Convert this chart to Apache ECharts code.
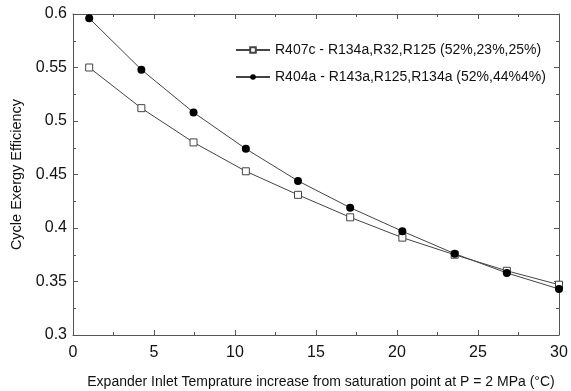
<!DOCTYPE html>
<html><head><meta charset="utf-8">
<script src="https://cdn.jsdelivr.net/npm/echarts@6/dist/echarts.min.js"></script>
<style>html,body{margin:0;padding:0;background:#fff}#c{width:571px;height:391px}</style>
</head><body><div id="c"></div>
<script>
const xValues = [1, 4.22, 7.44, 10.67, 13.89, 17.11, 20.33, 23.56, 26.78, 30];
const r407c = [0.550, 0.512, 0.480, 0.453, 0.431, 0.410, 0.391, 0.375, 0.360, 0.347];
const r404a = [0.596, 0.548, 0.508, 0.474, 0.444, 0.419, 0.397, 0.376, 0.358, 0.343];
const seriesNames = ['R407c - R134a,R32,R125 (52%,23%,25%)', 'R404a - R143a,R125,R134a (52%,44%4%)'];
const xTitle = 'Expander Inlet Temprature increase from saturation point at P = 2 MPa (°C)';
const yTitle = 'Cycle Exergy Efficiency';

const font = 'Liberation Sans, Arial, sans-serif';
const axisCol = '#555';
const chart = echarts.init(document.getElementById('c'), null, {renderer: 'canvas'});
const pair = arr => xValues.map((x, i) => [x, arr[i]]);
const baseX = {
  type: 'value', min: 0, max: 30, interval: 5,
  axisLine: {onZero: false, lineStyle: {color: axisCol, width: 1}},
  axisTick: {inside: true, length: 5, lineStyle: {color: axisCol}},
  minorTick: {show: true, splitNumber: 2, length: 3, lineStyle: {color: axisCol}},
  splitLine: {show: false}
};
const baseY = {
  type: 'value', min: 0.3, max: 0.6, interval: 0.05,
  axisLine: {show: true, onZero: false, lineStyle: {color: axisCol, width: 1}},
  axisTick: {show: true, inside: true, length: 5, lineStyle: {color: axisCol}},
  minorTick: {show: true, splitNumber: 2, length: 3, lineStyle: {color: axisCol}},
  splitLine: {show: false}
};
chart.setOption({
  animation: false,
  backgroundColor: '#fff',
  grid: {left: 73, right: 12, top: 14, bottom: 56, containLabel: false, outerBoundsMode: 'none'},
  legend: {
    orient: 'vertical', left: 230, top: 38, itemWidth: 34, itemHeight: 7, itemGap: 13,
    textStyle: {fontFamily: font, fontSize: 14, color: '#111', padding: [3, 0, 0, 0]},
    data: seriesNames
  },
  xAxis: [
    Object.assign({}, baseX, {
      position: 'bottom',
      axisLabel: {fontFamily: font, fontSize: 16, color: '#111', margin: 10},
      name: xTitle, nameLocation: 'middle', nameGap: 40,
      nameTextStyle: {fontFamily: font, fontSize: 14, color: '#111', padding: [0, 0, 0, 10]}
    }),
    Object.assign({}, baseX, {position: 'top', axisLabel: {show: false}})
  ],
  yAxis: [
    Object.assign({}, baseY, {
      position: 'left',
      axisLabel: {fontFamily: font, fontSize: 16, color: '#111', margin: 6,
        formatter: v => String(parseFloat(v.toFixed(2)))},
      name: yTitle, nameLocation: 'middle', nameGap: 44,
      nameTextStyle: {fontFamily: font, fontSize: 14.5, color: '#111'}
    }),
    Object.assign({}, baseY, {position: 'right', axisLabel: {show: false}})
  ],
  series: [
    {name: seriesNames[0], type: 'line', data: pair(r407c), symbol: 'rect', symbolSize: 7,
     lineStyle: {color: '#444', width: 1}, itemStyle: {color: '#fff', borderColor: '#444', borderWidth: 1}, z: 3},
    {name: seriesNames[1], type: 'line', data: pair(r404a), symbol: 'circle', symbolSize: 8,
     lineStyle: {color: '#444', width: 1}, itemStyle: {color: '#000', borderColor: '#000', borderWidth: 0}, z: 4}
  ]
});
</script></body></html>
